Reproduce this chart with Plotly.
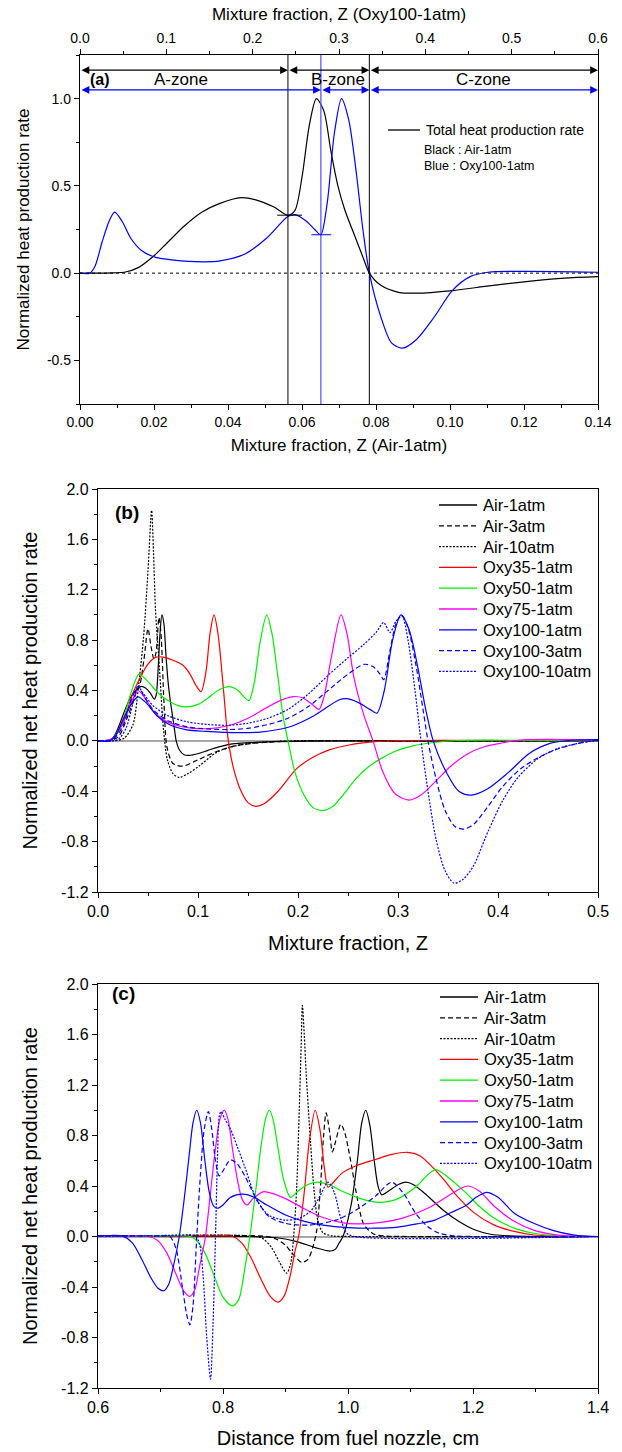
import plotly.graph_objects as go

W, H = 622, 1452
FONT = "Arial, Liberation Sans, sans-serif"

# ---------------- data: panel (a) & (b)  (mixture fraction Z) ----------------
z_air1 = [0, 0.009, 0.012, 0.0156, 0.02, 0.0234, 0.0282, 0.033, 0.0378, 0.0436, 0.0475, 0.0523,
          0.0562, 0.0581, 0.060, 0.062, 0.0639, 0.0659, 0.0678, 0.0697, 0.0716, 0.0745, 0.0765,
          0.0782, 0.0813, 0.0861, 0.091, 0.1006, 0.110, 0.12, 0.13, 0.14, 0.17, 0.21, 0.3, 0.5]
v_air1 = [0, 0.002, 0.005, 0.03, 0.10, 0.17, 0.27, 0.35, 0.40, 0.433, 0.42, 0.38,
          0.332, 0.36, 0.55, 0.85, 1.0, 0.93, 0.70, 0.50, 0.36, 0.20, 0.09,
          0.0, -0.07, -0.11, -0.115, -0.10, -0.075, -0.05, -0.03, -0.02, -0.008, -0.002, 0, 0]

# Oxy100-1atm in its own mixture fraction
z_oxy100_1 = [0, 0.0112, 0.0174, 0.0257, 0.0339, 0.0401, 0.0484, 0.0588, 0.0712, 0.0877, 0.1084,
              0.1415, 0.1622, 0.1912, 0.216, 0.2408, 0.249, 0.2615, 0.2719, 0.2789, 0.2863, 0.2946,
              0.3029, 0.3112, 0.3194, 0.3277, 0.3352, 0.3484, 0.3608, 0.3732, 0.3898, 0.4105,
              0.4312, 0.4519, 0.4726, 0.5139, 0.6]
v_oxy100_1 = [0, 0, 0.04, 0.18, 0.30, 0.35, 0.30, 0.20, 0.13, 0.09, 0.075,
              0.065, 0.07, 0.11, 0.20, 0.325, 0.335, 0.30, 0.25, 0.22, 0.40, 0.80,
              1.0, 0.88, 0.60, 0.25, 0.0, -0.25, -0.40, -0.43, -0.38, -0.25,
              -0.10, -0.02, 0.005, 0.01, 0.005]

z_air3 = [0, 0.01, 0.02, 0.03, 0.038, 0.042, 0.046, 0.050, 0.053, 0.056, 0.058, 0.061, 0.063,
          0.066, 0.069, 0.075, 0.085, 0.10, 0.12, 0.14, 0.17, 0.21, 0.3, 0.5]
v_air3 = [0, 0, 0.03, 0.2, 0.38, 0.45, 0.65, 0.89, 0.75, 0.65, 0.7, 0.98, 0.85,
          0.3, -0.05, -0.18, -0.20, -0.15, -0.08, -0.035, -0.01, 0, 0, 0]

z_air10 = [0, 0.015, 0.026, 0.035, 0.040, 0.0456, 0.050, 0.0536, 0.0555, 0.0575, 0.0615, 0.0655,
           0.0694, 0.075, 0.081, 0.09, 0.101, 0.119, 0.137, 0.158, 0.19, 0.3, 0.5]
v_air10 = [0, 0, 0.02, 0.13, 0.4, 0.83, 1.35, 1.83, 1.5, 1.04, 0.57, 0.09,
           -0.15, -0.26, -0.29, -0.26, -0.2, -0.09, -0.04, -0.015, 0, 0, 0]

z_oxy35 = [0, 0.005, 0.015, 0.025, 0.035, 0.042, 0.05, 0.058, 0.065, 0.075, 0.085, 0.092, 0.098,
           0.103, 0.108, 0.112, 0.116, 0.120, 0.125, 0.130, 0.135, 0.142, 0.150, 0.158, 0.166,
           0.18, 0.1987, 0.215, 0.232, 0.25, 0.265, 0.28, 0.30, 0.35, 0.5]
v_oxy35 = [0, 0, 0.02, 0.15, 0.38, 0.50, 0.61, 0.665, 0.665, 0.64, 0.6, 0.53, 0.44,
           0.39, 0.55, 0.85, 1.0, 0.85, 0.45, 0.02, -0.2, -0.38, -0.49, -0.52, -0.50,
           -0.40, -0.22, -0.13, -0.07, -0.035, -0.016, -0.005, 0.003, 0.005, 0]

z_oxy50 = [0, 0.005, 0.015, 0.025, 0.033, 0.041, 0.05, 0.06, 0.07, 0.08, 0.09, 0.10, 0.11, 0.12,
           0.131, 0.14, 0.147, 0.151, 0.156, 0.162, 0.1687, 0.174, 0.18, 0.185, 0.19, 0.197,
           0.206, 0.215, 0.2247, 0.235, 0.245, 0.258, 0.27, 0.282, 0.298, 0.315, 0.334, 0.36,
           0.45, 0.5]
v_oxy50 = [0, 0, 0.02, 0.17, 0.38, 0.53, 0.47, 0.38, 0.32, 0.28, 0.27, 0.29, 0.34, 0.40,
           0.43, 0.40, 0.34, 0.32, 0.45, 0.78, 1.0, 0.85, 0.5, 0.2, 0.0, -0.25,
           -0.43, -0.53, -0.553, -0.52, -0.43, -0.30, -0.21, -0.145, -0.08, -0.04, -0.015, 0.003,
           0.003, 0]

z_oxy75 = [0, 0.005, 0.015, 0.025, 0.033, 0.040, 0.047, 0.055, 0.065, 0.08, 0.095, 0.112, 0.13,
           0.15, 0.17, 0.185, 0.196, 0.205, 0.214, 0.221, 0.226, 0.233, 0.243, 0.249, 0.256,
           0.266, 0.275, 0.285, 0.297, 0.311, 0.323, 0.339, 0.353, 0.369, 0.387, 0.405, 0.42,
           0.45, 0.48, 0.5]
v_oxy75 = [0, 0, 0.02, 0.14, 0.30, 0.40, 0.34, 0.24, 0.17, 0.12, 0.10, 0.098, 0.12,
           0.18, 0.27, 0.33, 0.352, 0.34, 0.29, 0.25, 0.35, 0.65, 1.0, 0.85, 0.5,
           0.2, 0, -0.25, -0.42, -0.47, -0.43, -0.31, -0.2, -0.106, -0.045, -0.015, 0.005,
           0.012, 0.008, 0.005]

z_oxy100_3 = [0, 0.005, 0.015, 0.025, 0.033, 0.040, 0.047, 0.056, 0.07, 0.09, 0.11, 0.13, 0.15,
              0.17, 0.19, 0.21, 0.23, 0.25, 0.266, 0.275, 0.282, 0.2857, 0.292, 0.298, 0.3036,
              0.31, 0.318, 0.325, 0.330, 0.338, 0.347, 0.357, 0.366, 0.376, 0.39, 0.405, 0.423,
              0.441, 0.459, 0.477, 0.49, 0.5]
v_oxy100_3 = [0, 0, 0.01, 0.12, 0.32, 0.43, 0.34, 0.24, 0.16, 0.11, 0.095, 0.09, 0.10,
              0.13, 0.18, 0.27, 0.40, 0.53, 0.608, 0.59, 0.53, 0.486, 0.72, 0.93, 1.0,
              0.9, 0.6, 0.25, 0.0, -0.3, -0.55, -0.68, -0.70, -0.66, -0.52, -0.36, -0.22,
              -0.13, -0.066, -0.026, -0.005, 0.01]

z_oxy100_10 = [0, 0.01, 0.02, 0.028, 0.035, 0.040, 0.045, 0.055, 0.07, 0.09, 0.11, 0.13, 0.15,
               0.17, 0.19, 0.21, 0.23, 0.25, 0.265, 0.278, 0.2857, 0.292, 0.298, 0.304, 0.31,
               0.317, 0.323, 0.33, 0.338, 0.347, 0.356, 0.365, 0.375, 0.39, 0.405, 0.42, 0.44,
               0.46, 0.48, 0.5]
v_oxy100_10 = [0, 0, 0.01, 0.1, 0.3, 0.43, 0.38, 0.28, 0.2, 0.15, 0.13, 0.124, 0.14,
               0.18, 0.25, 0.37, 0.52, 0.66, 0.76, 0.86, 0.94, 0.86, 0.95, 0.99, 0.8,
               0.4, 0.0, -0.4, -0.78, -1.03, -1.13, -1.10, -1.0, -0.72, -0.47, -0.29, -0.14,
               -0.06, -0.02, 0.005]

# ---------------- data: panel (c)  (distance from fuel nozzle, cm) ----------------
x_c_air1 = [0.6, 0.84, 0.86, 0.886, 0.918, 0.949, 0.9715, 0.98, 0.986, 0.992, 1.005, 1.015, 1.022,
            1.0285, 1.035, 1.042, 1.048, 1.054, 1.065, 1.08, 1.092, 1.105, 1.123, 1.152, 1.177,
            1.2025, 1.228, 1.26, 1.3, 1.4]
v_c_air1 = [0, 0, -0.003, -0.01, -0.04, -0.09, -0.115, -0.10, -0.05, 0.0, 0.25, 0.6, 0.9,
            1.0, 0.88, 0.6, 0.40, 0.33, 0.36, 0.41, 0.43, 0.41, 0.34, 0.21, 0.12,
            0.053, 0.018, 0.005, 0, 0]

x_c_air3 = [0.6, 0.87, 0.885, 0.90, 0.912, 0.926, 0.936, 0.944, 0.950, 0.956, 0.961, 0.965, 0.97,
            0.975, 0.98, 0.9886, 0.995, 1.0, 1.006, 1.0127, 1.025, 1.041, 1.063, 1.1, 1.4]
v_c_air3 = [0, 0, -0.02, -0.07, -0.14, -0.205, -0.18, -0.08, 0.05, 0.4, 0.8, 0.98, 0.85,
            0.67, 0.75, 0.89, 0.82, 0.71, 0.55, 0.36, 0.10, 0.02, 0.003, 0, 0]

x_c_air10 = [0.6, 0.855, 0.865, 0.878, 0.890, 0.902, 0.908, 0.913, 0.918, 0.922, 0.925, 0.927,
             0.930, 0.933, 0.94, 0.946, 0.952, 0.96, 0.975, 1.0, 1.4]
v_c_air10 = [0, 0, -0.02, -0.09, -0.2, -0.29, -0.22, 0.0, 0.4, 1.0, 1.5, 1.83,
             1.6, 1.3, 0.75, 0.35, 0.12, 0.03, 0.005, 0, 0]

x_c_oxy35 = [0.6, 0.75, 0.80, 0.815, 0.83, 0.845, 0.86, 0.875, 0.888, 0.898, 0.908, 0.915, 0.921,
             0.93, 0.938, 0.9475, 0.955, 0.962, 0.968, 0.975, 0.99, 1.013, 1.044, 1.07, 1.095,
             1.115, 1.139, 1.155, 1.171, 1.2025, 1.234, 1.266, 1.297, 1.33, 1.4]
v_c_oxy35 = [0, 0.003, 0.005, 0.002, -0.05, -0.17, -0.33, -0.47, -0.52, -0.47, -0.30, -0.12, 0.0,
             0.35, 0.75, 1.0, 0.85, 0.55, 0.39, 0.42, 0.50, 0.56, 0.61, 0.65, 0.667,
             0.64, 0.53, 0.44, 0.34, 0.185, 0.09, 0.04, 0.012, 0.003, 0]

x_c_oxy50 = [0.6, 0.70, 0.745, 0.755, 0.77, 0.785, 0.80, 0.815, 0.825, 0.835, 0.843, 0.852, 0.861,
             0.868, 0.874, 0.88, 0.888, 0.897, 0.908, 0.92, 0.935, 0.951, 0.97, 0.99, 1.02,
             1.05, 1.08, 1.11, 1.13, 1.141, 1.16, 1.19, 1.21, 1.234, 1.266, 1.297, 1.33,
             1.36, 1.4]
v_c_oxy50 = [0.003, 0.005, 0.003, -0.02, -0.12, -0.30, -0.48, -0.55, -0.50, -0.25, 0.0, 0.35, 0.72,
             0.93, 1.0, 0.93, 0.7, 0.45, 0.31, 0.36, 0.41, 0.43, 0.41, 0.36, 0.30,
             0.27, 0.30, 0.40, 0.50, 0.53, 0.47, 0.34, 0.24, 0.145, 0.066, 0.026, 0.008,
             0.002, 0]

x_c_oxy75 = [0.6, 0.65, 0.68, 0.695, 0.71, 0.725, 0.737, 0.747, 0.755, 0.762, 0.772, 0.78, 0.788,
             0.795, 0.802, 0.808, 0.815, 0.823, 0.831, 0.8386, 0.848, 0.864, 0.88, 0.90, 0.93,
             0.96, 0.99, 1.013, 1.05, 1.09, 1.13, 1.16, 1.18, 1.192, 1.21, 1.234, 1.266, 1.297,
             1.33, 1.36, 1.4]
v_c_oxy75 = [0.003, 0.005, 0.002, -0.03, -0.13, -0.30, -0.43, -0.474, -0.42, -0.25, 0.0, 0.35, 0.7,
             0.93, 1.0, 0.93, 0.7, 0.45, 0.29, 0.25, 0.30, 0.354, 0.34, 0.30, 0.22,
             0.15, 0.11, 0.10, 0.11, 0.15, 0.23, 0.32, 0.38, 0.40, 0.36, 0.24, 0.12, 0.05,
             0.015, 0.003, 0]

x_c_oxy100_1 = [0.60, 0.62, 0.64, 0.655, 0.67, 0.685, 0.696, 0.705, 0.713, 0.72, 0.73, 0.738, 0.746,
                0.752, 0.758, 0.764, 0.771, 0.778, 0.785, 0.7924, 0.80, 0.812, 0.832, 0.85, 0.87,
                0.90, 0.93, 0.96, 1.0, 1.044, 1.08, 1.11, 1.139, 1.165, 1.19, 1.205, 1.222, 1.24,
                1.266, 1.297, 1.329, 1.36, 1.38, 1.4]
v_c_oxy100_1 = [0.005, 0.008, 0.003, -0.05, -0.18, -0.33, -0.41, -0.43, -0.38, -0.25, 0.0, 0.3, 0.65,
                0.9, 1.0, 0.9, 0.6, 0.35, 0.24, 0.224, 0.25, 0.31, 0.335, 0.31, 0.25,
                0.17, 0.12, 0.09, 0.07, 0.066, 0.075, 0.10, 0.13, 0.19, 0.25, 0.31, 0.35, 0.31,
                0.185, 0.105, 0.047, 0.013, 0.003, 0]

x_c_oxy100_3 = [0.6, 0.70, 0.715, 0.725, 0.735, 0.742, 0.747, 0.752, 0.758, 0.764, 0.77, 0.7766,
                0.782, 0.788, 0.794, 0.80, 0.812, 0.822, 0.8354, 0.854, 0.873, 0.899, 0.937, 0.981,
                1.013, 1.044, 1.07, 1.089, 1.108, 1.127, 1.146, 1.17, 1.2, 1.4]
v_c_oxy100_3 = [0.003, 0.005, 0.0, -0.1, -0.4, -0.62, -0.70, -0.55, 0.0, 0.5, 0.85, 0.99,
                0.85, 0.6, 0.48, 0.52, 0.607, 0.58, 0.475, 0.29, 0.16, 0.105, 0.09, 0.13,
                0.21, 0.32, 0.43, 0.34, 0.185, 0.08, 0.026, 0.005, 0, 0]

x_c_oxy100_10 = [0.6, 0.70, 0.755, 0.762, 0.768, 0.774, 0.78, 0.784, 0.788, 0.791, 0.794, 0.797,
                 0.803, 0.812, 0.823, 0.835, 0.854, 0.873, 0.899, 0.92, 0.94, 0.955, 0.968, 0.978,
                 0.988, 0.997, 1.01, 1.4]
v_c_oxy100_10 = [0.003, 0.005, 0.003, -0.05, -0.3, -0.8, -1.13, -0.7, 0.0, 0.6, 0.95, 0.99,
                 0.93, 0.85, 0.71, 0.55, 0.29, 0.17, 0.13, 0.14, 0.2, 0.32, 0.43, 0.35,
                 0.15, 0.03, 0.0, 0]

# zone boundaries (panel a)
zones_air = [0.0, 0.0562, 0.0782, 0.14]        # bottom axis (Air-1atm)
zones_oxy = [0.0, 0.279, 0.3352, 0.6]          # top axis (Oxy100-1atm)
zone_names = ["A-zone", "B-zone", "C-zone"]
zone_label_x = [0.0272, 0.0697, 0.109]

series_names = ["Air-1atm", "Air-3atm", "Air-10atm", "Oxy35-1atm", "Oxy50-1atm",
                "Oxy75-1atm", "Oxy100-1atm", "Oxy100-3atm", "Oxy100-10atm"]
series_colors = ["#000000", "#000000", "#000000", "#ff0000", "#00ee00",
                 "#ff00ff", "#0000ff", "#0000ff", "#0000ff"]
series_dash = ["solid", "5px,3px", "2px,1.5px", "solid", "solid",
               "solid", "solid", "5px,3px", "2px,1.5px"]

b_x = [z_air1, z_air3, z_air10, z_oxy35, z_oxy50, z_oxy75, z_oxy100_1, z_oxy100_3, z_oxy100_10]
b_y = [v_air1, v_air3, v_air10, v_oxy35, v_oxy50, v_oxy75, v_oxy100_1, v_oxy100_3, v_oxy100_10]
c_x = [x_c_air1, x_c_air3, x_c_air10, x_c_oxy35, x_c_oxy50, x_c_oxy75, x_c_oxy100_1,
       x_c_oxy100_3, x_c_oxy100_10]
c_y = [v_c_air1, v_c_air3, v_c_air10, v_c_oxy35, v_c_oxy50, v_c_oxy75, v_c_oxy100_1,
       v_c_oxy100_3, v_c_oxy100_10]

yt_a = [-0.5, 0.0, 0.5, 1.0]
yt_bc = [-1.2, -0.8, -0.4, 0.0, 0.4, 0.8, 1.2, 1.6, 2.0]


def px(x):
    return x / W


def py(y):
    return 1 - y / H


fig = go.Figure()
LW = 1.2
SPL = dict(shape="spline", smoothing=0.8)

# ---- panel (a)
fig.add_trace(go.Scatter(x=z_air1, y=v_air1, mode="lines", xaxis="x", yaxis="y",
                         line=dict(color="black", width=LW, **SPL), showlegend=False,
                         name="Air-1atm"))
fig.add_trace(go.Scatter(x=z_oxy100_1, y=v_oxy100_1, mode="lines", xaxis="x2", yaxis="y",
                         line=dict(color="#0000ff", width=LW, **SPL), showlegend=False,
                         name="Oxy100-1atm"))

# ---- panels (b), (c)
for i in range(9):
    fig.add_trace(go.Scatter(x=b_x[i], y=b_y[i], mode="lines", xaxis="x3", yaxis="y3",
                             name=series_names[i], showlegend=False,
                             line=dict(color=series_colors[i], width=LW, dash=series_dash[i], **SPL)))
for i in range(9):
    fig.add_trace(go.Scatter(x=c_x[i], y=c_y[i], mode="lines", xaxis="x4", yaxis="y4",
                             name=series_names[i], showlegend=False,
                             line=dict(color=series_colors[i], width=LW, dash=series_dash[i], **SPL)))

tickfont_a = dict(family=FONT, size=14, color="black")
tickfont_b = dict(family=FONT, size=16, color="black")
common = dict(showline=True, linecolor="black", linewidth=1.3, ticks="outside", ticklen=5,
              tickwidth=1.1, tickcolor="black", showgrid=False, zeroline=False, automargin=False)
minor_len = 3

dom_a_x = [px(80), px(598)]
dom_a_y = [py(404), py(55)]
dom_b_x = [px(98), px(598)]
dom_b_y = [py(892), py(489)]
dom_c_y = [py(1388), py(984)]

fig.update_layout(
    width=W, height=H, margin=dict(l=0, r=0, t=0, b=0, autoexpand=False),
    plot_bgcolor="white", paper_bgcolor="white", showlegend=False,
    font=dict(family=FONT, color="black"),
    xaxis=dict(domain=dom_a_x, anchor="y", range=[0, 0.14], dtick=0.02, tick0=0, tickformat=".2f",
               tickfont=tickfont_a, minor=dict(dtick=0.01, ticklen=minor_len, ticks="outside"),
               title=dict(text="Mixture fraction, Z (Air-1atm)", font=dict(size=17), standoff=10),
               **common),
    xaxis2=dict(domain=dom_a_x, anchor="y", overlaying="x", side="top", range=[0, 0.6], dtick=0.1,
                tick0=0, tickformat=".1f", tickfont=tickfont_a,
                minor=dict(dtick=0.05, ticklen=minor_len, ticks="outside"),
                title=dict(text="Mixture fraction, Z (Oxy100-1atm)", font=dict(size=17), standoff=5),
                **common),
    yaxis=dict(domain=dom_a_y, anchor="x", range=[-0.75, 1.25], tickvals=yt_a,
               ticktext=[f"{v:.1f}" for v in yt_a], tickfont=tickfont_a,
               minor=dict(dtick=0.25, tick0=0, ticklen=minor_len, ticks="outside"), mirror=True,
               title=dict(text="Normalized heat production rate", font=dict(size=17), standoff=12),
               **common),
    xaxis3=dict(domain=dom_b_x, anchor="y3", range=[0, 0.5], dtick=0.1, tick0=0, tickformat=".1f",
                tickfont=tickfont_b, mirror=True,
                minor=dict(dtick=0.05, ticklen=minor_len, ticks="outside"),
                title=dict(text="Mixture fraction, Z", font=dict(size=20), standoff=16), **common),
    yaxis3=dict(domain=dom_b_y, anchor="x3", range=[-1.2, 2.0], tickvals=yt_bc,
                ticktext=[f"{v:.1f}" for v in yt_bc], tickfont=tickfont_b, mirror=True,
                minor=dict(dtick=0.2, tick0=0, ticklen=minor_len, ticks="outside"),
                title=dict(text="Normalized net heat production rate", font=dict(size=20), standoff=18),
                **common),
    xaxis4=dict(domain=dom_b_x, anchor="y4", range=[0.6, 1.4], dtick=0.2, tick0=0.6, tickformat=".1f",
                tickfont=tickfont_b, mirror=True,
                minor=dict(dtick=0.1, ticklen=minor_len, ticks="outside"),
                title=dict(text="Distance from fuel nozzle, cm", font=dict(size=20), standoff=15),
                **common),
    yaxis4=dict(domain=dom_c_y, anchor="x4", range=[-1.2, 2.0], tickvals=yt_bc,
                ticktext=[f"{v:.1f}" for v in yt_bc], tickfont=tickfont_b, mirror=True,
                minor=dict(dtick=0.2, tick0=0, ticklen=minor_len, ticks="outside"),
                title=dict(text="Normalized net heat production rate", font=dict(size=20), standoff=18),
                **common),
)

# zero lines for (b) and (c)
fig.update_layout(yaxis3_zeroline=True, yaxis3_zerolinecolor="#a8a8a8", yaxis3_zerolinewidth=1.5,
                  yaxis4_zeroline=True, yaxis4_zerolinecolor="#a8a8a8", yaxis4_zerolinewidth=1.5)

shapes = []
ann = []
# dotted zero line in (a)
shapes.append(dict(type="line", xref="x domain", yref="y", x0=0, x1=1, y0=0, y1=0,
                   line=dict(color="black", width=1, dash="dot")))
# zone boundary lines
for zb in zones_air[1:3]:
    shapes.append(dict(type="line", xref="x", yref="y domain", x0=zb, x1=zb, y0=0, y1=1,
                       line=dict(color="black", width=1)))
shapes.append(dict(type="line", xref="x2", yref="y domain", x0=zones_oxy[1], x1=zones_oxy[1],
                   y0=0, y1=1, line=dict(color="#5a5aff", width=1.3)))
# small horizontal markers
shapes.append(dict(type="line", xref="x", yref="y", x0=0.0533, x1=0.0600, y0=0.332, y1=0.332,
                   line=dict(color="black", width=1)))
shapes.append(dict(type="line", xref="x2", yref="y", x0=0.268, x1=0.291, y0=0.22, y1=0.22,
                   line=dict(color="#0000ff", width=1)))

# legend of (a)
shapes.append(dict(type="line", xref="paper", yref="paper", x0=px(388), x1=px(420),
                   y0=py(130), y1=py(130), line=dict(color="black", width=1.3)))
ann.append(dict(xref="paper", yref="paper", x=px(424), y=py(130), text="Total heat production rate",
                showarrow=False, xanchor="left", yanchor="middle", font=dict(size=14, family=FONT)))
ann.append(dict(xref="paper", yref="paper", x=px(422), y=py(149.5), text="Black : Air-1atm",
                showarrow=False, xanchor="left", yanchor="middle", font=dict(size=12.5, family=FONT)))
ann.append(dict(xref="paper", yref="paper", x=px(422), y=py(166), text="Blue : Oxy100-1atm",
                showarrow=False, xanchor="left", yanchor="middle", font=dict(size=12.5, family=FONT)))

# legends of (b) and (c)
for y0, xl in [(505, 439), (997, 440)]:
    for i in range(9):
        yy = py(y0 + i * 20.8)
        shapes.append(dict(type="line", xref="paper", yref="paper", x0=px(xl), x1=px(xl + 38),
                           y0=yy, y1=yy,
                           line=dict(color=series_colors[i], width=1.3, dash=series_dash[i])))
        ann.append(dict(xref="paper", yref="paper", x=px(xl + 42), y=yy, text=series_names[i],
                        showarrow=False, xanchor="left", yanchor="middle",
                        font=dict(size=16.5, family=FONT)))

fig.update_layout(shapes=shapes)

# zone arrows and labels
for i in range(3):
    ann.append(dict(xref="x", yref="y", axref="x", ayref="y", x=zones_air[i + 1], y=1.163,
                    ax=zones_air[i], ay=1.163, text="", showarrow=True, arrowside="end+start",
                    arrowhead=2, arrowsize=1.3, arrowwidth=1.2, arrowcolor="black",
                    standoff=0, startstandoff=0))
    ann.append(dict(xref="x2", yref="y", axref="x2", ayref="y", x=zones_oxy[i + 1], y=1.05,
                    ax=zones_oxy[i], ay=1.05, text="", showarrow=True, arrowside="end+start",
                    arrowhead=2, arrowsize=1.3, arrowwidth=1.2, arrowcolor="#0000ff",
                    standoff=0, startstandoff=0))
    ann.append(dict(xref="x", yref="y", x=zone_label_x[i], y=1.107, text=zone_names[i],
                    showarrow=False, font=dict(size=17, family=FONT), yanchor="middle"))
ann.append(dict(xref="x", yref="y", x=0.0022, y=1.107, text="<b>(a)</b>", showarrow=False,
                xanchor="left", yanchor="middle", font=dict(size=16, family=FONT)))
ann.append(dict(xref="paper", yref="paper", x=px(113), y=py(512), text="<b>(b)</b>",
                showarrow=False, xanchor="left", font=dict(size=19, family=FONT)))
ann.append(dict(xref="paper", yref="paper", x=px(110), y=py(1006), text="<b>(c)</b>",
                showarrow=False, xanchor="left", font=dict(size=19, family=FONT)))
fig.update_layout(annotations=ann)

fig.write_html("out.html")
